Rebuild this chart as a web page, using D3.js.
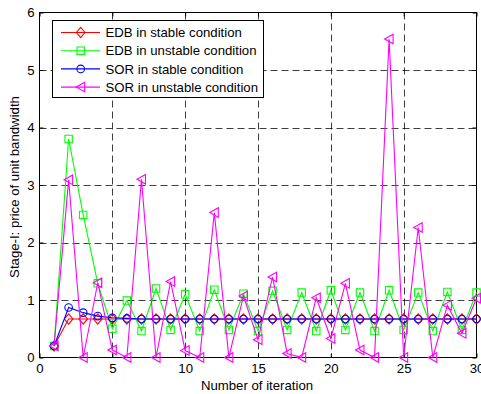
<!DOCTYPE html>
<html><head><meta charset="utf-8">
<script src="https://cdn.jsdelivr.net/npm/d3@7"></script>
<style>html,body{margin:0;padding:0;background:#fff;}svg{display:block;}</style>
</head><body>
<svg id="c" width="481" height="394"></svg>
<script>
const iterations = [1,2,3,4,5,6,7,8,9,10,11,12,13,14,15,16,17,18,19,20,21,22,23,24,25,26,27,28,29,30];
const edbStable = [0.2,0.67,0.67,0.67,0.67,0.67,0.67,0.67,0.67,0.67,0.67,0.67,0.67,0.67,0.67,0.67,0.67,0.67,0.67,0.67,0.67,0.67,0.67,0.67,0.67,0.67,0.67,0.67,0.67,0.67];
const edbUnstable = [0.2,3.8,2.48,1.29,0.5,0.99,0.46,1.2,0.48,1.1,0.46,1.18,0.48,1.11,0.46,1.16,0.48,1.13,0.46,1.17,0.48,1.13,0.46,1.17,0.48,1.13,0.46,1.14,0.48,1.13];
const sorStable = [0.2,0.87,0.78,0.72,0.69,0.68,0.67,0.67,0.67,0.67,0.67,0.67,0.67,0.67,0.67,0.67,0.67,0.67,0.67,0.67,0.67,0.67,0.67,0.67,0.67,0.67,0.67,0.67,0.67,0.67];
const sorUnstable = [0.2,3.09,0.0,1.3,0.13,0.0,3.1,0.0,1.32,0.12,0.0,2.52,0.0,1.07,0.31,1.4,0.07,0.0,1.04,0.33,1.29,0.13,0.0,5.54,0.0,2.26,0.0,0.91,0.42,1.03];
const xTicks = [0,5,10,15,20,25,30];
const yTicks = [0,1,2,3,4,5,6];
const seriesNames = ["EDB in stable condition","EDB in unstable condition","SOR in stable condition","SOR in unstable condition"];
const seriesColors = ["#ff0000","#00ff00","#0000ff","#ff00ff"];
const seriesMarkers = ["diamond","square","circle","triangleLeft"];
const seriesData = [edbStable, edbUnstable, sorStable, sorUnstable];

const svg = d3.select("#c");
const L = 39.5, R = 476.5, T = 12.5, B = 357.5;
const x = d3.scaleLinear().domain([0,30]).range([L,R]);
const y = d3.scaleLinear().domain([0,6]).range([B,T]);
const font = "'Liberation Sans', Arial, sans-serif";
const fs = 13.2;

svg.append("rect").attr("width",481).attr("height",394).attr("fill","#fff");

// grid
const g = svg.append("g");
xTicks.filter(t=>t>0&&t<30).forEach(t=>{
  g.append("line").attr("x1",Math.round(x(t))+0.5).attr("x2",Math.round(x(t))+0.5).attr("y1",T).attr("y2",B)
   .attr("stroke","#000").attr("stroke-width",1).attr("stroke-dasharray","7,4").attr("opacity",0.75);
});
yTicks.filter(t=>t>0&&t<6).forEach(t=>{
  g.append("line").attr("y1",Math.round(y(t))+0.5).attr("y2",Math.round(y(t))+0.5).attr("x1",L).attr("x2",R)
   .attr("stroke","#000").attr("stroke-width",1).attr("stroke-dasharray","7,4").attr("opacity",0.75);
});

// axes with inward ticks
const xAxisB = d3.axisBottom(x).tickValues(xTicks).tickSize(-4).tickPadding(6).tickFormat(d3.format("d"));
const xAxisT = d3.axisTop(x).tickValues(xTicks).tickSize(-4).tickFormat("");
const yAxisL = d3.axisLeft(y).tickValues(yTicks).tickSize(-4).tickPadding(5).tickFormat(d3.format("d"));
const yAxisR = d3.axisRight(y).tickValues(yTicks).tickSize(-4).tickFormat("");
function style(sel){
  sel.selectAll("path").remove();
  sel.selectAll("line").attr("stroke","#000");
  sel.selectAll("text").attr("font-family",font).attr("font-size",fs).attr("fill","#000");
}
svg.append("g").attr("transform",`translate(0,${B})`).call(xAxisB).call(style);
svg.append("g").attr("transform",`translate(0,${T})`).call(xAxisT).call(style);
svg.append("g").attr("transform",`translate(${L},0)`).call(yAxisL).call(style);
svg.append("g").attr("transform",`translate(${R},0)`).call(yAxisR).call(style);

// box
svg.append("rect").attr("x",L).attr("y",T).attr("width",R-L).attr("height",B-T)
  .attr("fill","none").attr("stroke","#000").attr("stroke-width",1);

function markerPath(type){
  if(type==="diamond") return "M0,-5.2L4.3,0L0,5.2L-4.3,0Z";
  if(type==="square") return "M-3.7,-3.7H3.7V3.7H-3.7Z";
  if(type==="circle") return "M3.8,0A3.8,3.8 0 1,1 -3.8,0A3.8,3.8 0 1,1 3.8,0Z";
  return "M-4.5,0L4,-4.8L4,4.8Z";
}

const plot = svg.append("g");
seriesData.forEach((vals,i)=>{
  const pts = iterations.map((it,j)=>[it, vals[j]]);
  const line = d3.line().x(d=>x(d[0])).y(d=>y(d[1]));
  plot.append("path").attr("d",line(pts)).attr("fill","none").attr("stroke",seriesColors[i]).attr("stroke-width",1.1);
  plot.selectAll(null).data(pts).enter().append("path")
    .attr("d",markerPath(seriesMarkers[i]))
    .attr("transform",d=>`translate(${x(d[0])},${y(d[1])})`)
    .attr("fill","none").attr("stroke",seriesColors[i]).attr("stroke-width",1.1);
});

// legend
const lg = svg.append("g");
lg.append("rect").attr("x",52.5).attr("y",20.5).attr("width",211).attr("height",77)
  .attr("fill","#fff").attr("stroke","#000").attr("stroke-width",1);
seriesNames.forEach((name,i)=>{
  const cy = 32.5 + i*18.2;
  lg.append("line").attr("x1",61).attr("x2",100).attr("y1",cy).attr("y2",cy).attr("stroke",seriesColors[i]).attr("stroke-width",1.1);
  lg.append("path").attr("d",markerPath(seriesMarkers[i])).attr("transform",`translate(80.7,${cy})`)
    .attr("fill","none").attr("stroke",seriesColors[i]).attr("stroke-width",1.1);
  lg.append("text").attr("x",105.5).attr("y",cy).attr("dy","0.36em").text(name)
    .attr("font-family",font).attr("font-size",fs).attr("fill","#000");
});

// axis labels
svg.append("text").attr("x",(L+R)/2-1).attr("y",390).attr("text-anchor","middle")
  .attr("font-family",font).attr("font-size",fs).text("Number of iteration");
svg.append("text").attr("transform",`translate(18.5,${(T+B)/2+2}) rotate(-90)`).attr("text-anchor","middle")
  .attr("font-family",font).attr("font-size",fs).text("Stage-I: price of unit bandwidth");
</script>
</body></html>
